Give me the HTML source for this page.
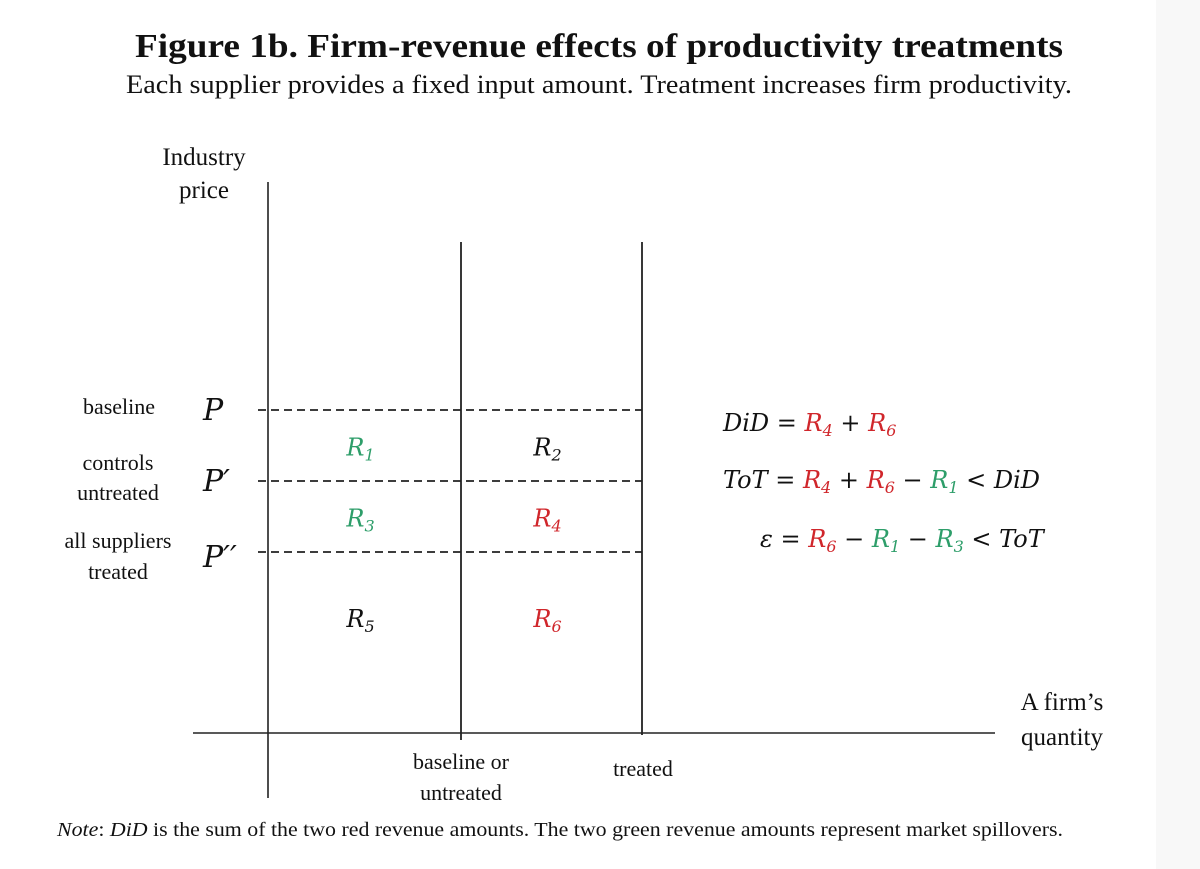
<!DOCTYPE html>
<html><head><meta charset="utf-8"><style>
html,body{margin:0;padding:0;background:#fff;}
body{width:1200px;height:869px;position:relative;overflow:hidden;font-family:"Liberation Serif",serif;}
#strip{position:absolute;left:1156px;top:0;width:44px;height:869px;background:#f8f8f8;}
svg{position:absolute;left:0;top:0;}
text{font-family:"Liberation Serif",serif;fill:#111;}
.m{font-style:italic;font-family:"DejaVu Serif","Liberation Serif",serif;}
.red{fill:#d0262b;} .grn{fill:#2e9e6a;}
</style></head><body>
<div id="strip"></div>
<svg width="1200" height="869">
<text x="135" y="57" textLength="928" lengthAdjust="spacingAndGlyphs" font-size="34" font-weight="bold">Figure 1b. Firm-revenue effects of productivity treatments</text>
<text x="126" y="93" textLength="946" lengthAdjust="spacingAndGlyphs" font-size="26">Each supplier provides a fixed input amount.  Treatment increases firm productivity.</text>
<text x="204" y="165" text-anchor="middle" font-size="25">Industry</text>
<text x="204" y="198" text-anchor="middle" font-size="25">price</text>
<text x="1062" y="710" text-anchor="middle" font-size="25">A firm’s</text>
<text x="1062" y="745" text-anchor="middle" font-size="25">quantity</text>
<g id="g"></g>
<g font-size="22">
<text x="119" y="414" text-anchor="middle">baseline</text>
<text x="118" y="470" text-anchor="middle">controls</text>
<text x="118" y="500" text-anchor="middle">untreated</text>
<text x="118" y="548" text-anchor="middle">all suppliers</text>
<text x="118" y="579" text-anchor="middle">treated</text>
</g>
<g font-size="22">
<text x="461" y="769" text-anchor="middle">baseline or</text>
<text x="461" y="800" text-anchor="middle">untreated</text>
<text x="643" y="776" text-anchor="middle">treated</text>
</g>
<g font-size="24">
<text x="723" y="431" class="m">DiD = <tspan class="red">R<tspan font-size="16" dy="5">4</tspan></tspan><tspan dy="-5"> + </tspan><tspan class="red">R<tspan font-size="16" dy="5">6</tspan></tspan></text>
<text x="723" y="488" class="m">ToT = <tspan class="red">R<tspan font-size="16" dy="5">4</tspan></tspan><tspan dy="-5"> + </tspan><tspan class="red">R<tspan font-size="16" dy="5">6</tspan></tspan><tspan dy="-5"> − </tspan><tspan class="grn">R<tspan font-size="16" dy="5">1</tspan></tspan><tspan dy="-5"> &lt; DiD</tspan></text>
<text x="760" y="547" class="m">ε = <tspan class="red">R<tspan font-size="16" dy="5">6</tspan></tspan><tspan dy="-5"> − </tspan><tspan class="grn">R<tspan font-size="16" dy="5">1</tspan></tspan><tspan dy="-5"> − </tspan><tspan class="grn">R<tspan font-size="16" dy="5">3</tspan></tspan><tspan dy="-5"> &lt; ToT</tspan></text>
</g>
<text x="57" y="836" textLength="1006" lengthAdjust="spacingAndGlyphs" font-size="20"><tspan font-style="italic">Note</tspan>: <tspan font-style="italic">DiD</tspan> is the sum of the two red revenue amounts.  The two green revenue amounts represent market spillovers.</text>
</svg>
<script>
const priceNames=["P","P′","P′′"];
const priceLevels=[3,2,1];
const quantityNames=["baseline","treated"];
const quantityLevels=[1,2];
const regionLabels=[["1","2"],["3","4"],["5","6"]];
const regionColors=[["grn","blk"],["grn","red"],["blk","red"]];
const X0=268,Y0=733;
const xs=q=>280+q*181;          // quantity axis
const ys=p=>Y0-p*71-110;        // price axis
const NS="http://www.w3.org/2000/svg";
const g=document.getElementById('g');
function mk(t,a){const e=document.createElementNS(NS,t);for(const k in a)e.setAttribute(k,a[k]);g.appendChild(e);return e;}
let e=mk('line',{x1:X0,y1:182,x2:X0,y2:798,stroke:'#222','stroke-width':1.6});


e=mk('line',{x1:193,y1:Y0,x2:995,y2:Y0,stroke:'#222','stroke-width':1.6});


quantityLevels.forEach((q,i)=>{
  const l=mk('line',{x1:xs(q),y1:242,x2:xs(q),y2:i==0?740:735,stroke:'#222','stroke-width':1.8});
  
  
});
priceLevels.forEach((p,i)=>{
  const l=mk('line',{x1:258,y1:ys(p),x2:xs(2),y2:ys(p),stroke:'#222','stroke-width':1.8,'stroke-dasharray':'8,5'});
  
  
  const t=mk('text',{x:203,y:ys(p)+10+(i==2?5:0),'font-size':30,class:'m'});
  t.textContent=priceNames[i];
  
  
});
const bounds=[ys(3),ys(2),ys(1)];
regionLabels.forEach((row,r)=>row.forEach((lab,c)=>{
  const cx=(c==0?(X0+xs(1))/2:(xs(1)+xs(2))/2)-4;
  const cy=(r<2?(bounds[r]+bounds[r+1])/2:ys(1)+65)+10;
  const t=mk('text',{x:cx,y:cy,'font-size':24,'text-anchor':'middle',class:'m '+regionColors[r][c]});
  t.innerHTML='R<tspan font-size="16" dy="5">'+lab+'</tspan>';
  
  
}));
</script>
</body></html>
